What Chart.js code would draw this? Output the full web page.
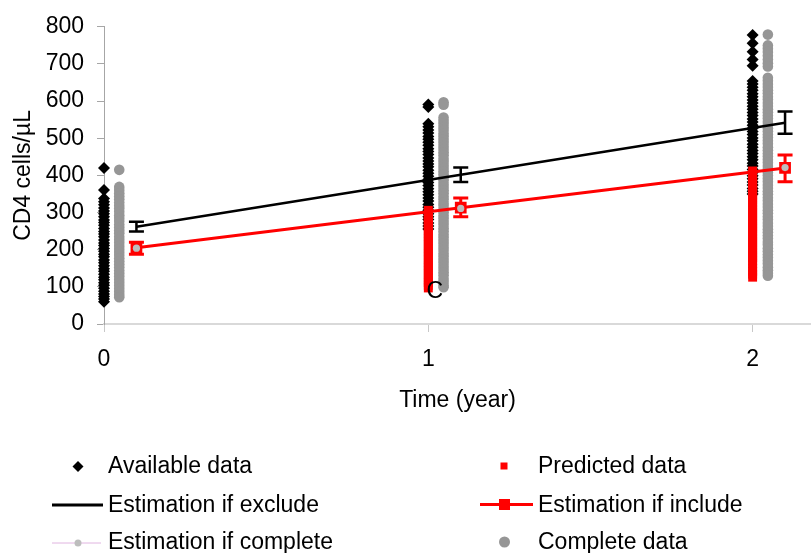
<!DOCTYPE html>
<html>
<head>
<meta charset="utf-8">
<script src="https://cdn.jsdelivr.net/npm/chart.js@4.4.1/dist/chart.umd.min.js"></script>
<style>
  body { margin: 0; background: #fff; }
  canvas { display: block; }
</style>
</head>
<body>
<canvas id="cd4-chart" width="811" height="553"></canvas>
<script>
// time points (years) and tick labels
var timePoints = [0, 1, 2];
var xTickValues = [0, 1, 2];
var yTickValues = [0, 100, 200, 300, 400, 500, 600, 700, 800];
var completeOffset = 0.047;   // complete data column sits just right of each year
var estimateOffset = 0.1;     // estimates are drawn slightly right of each year

// individual CD4 counts, per year
var availableY0 = [420, 361, 338, 329, 321, 312, 304, 297, 289, 280, 273, 266, 257, 249, 242, 235, 226, 218, 211, 203, 196, 188, 181, 172, 165, 157, 149, 142, 134, 126, 119, 111, 104, 96, 88, 81, 74, 67, 60];
var availableY1 = [591, 584, 539, 531, 522, 514, 505, 497, 489, 481, 472, 464, 456, 447, 439, 431, 423, 414, 406, 398, 389, 381, 373, 364, 356, 348, 339, 331, 322, 314, 306, 297, 289, 281, 272, 264, 256];
var availableY2 = [778, 756, 733, 712, 695, 654, 646, 637, 629, 620, 612, 603, 595, 586, 578, 569, 561, 552, 544, 535, 527, 518, 510, 501, 493, 484, 476, 467, 459, 450, 442, 433, 425, 416, 408, 399, 391, 382, 374, 365, 357, 350];

var predictedY1 = [306, 299, 291, 283, 275, 268, 260, 252, 244, 236, 229, 221, 213, 205, 197, 190, 182, 174, 166, 158, 151, 143, 135, 127, 119, 112, 104, 97];
var predictedY2 = [412, 404, 396, 388, 380, 373, 365, 357, 349, 341, 334, 326, 318, 310, 302, 295, 287, 279, 271, 263, 256, 248, 240, 232, 224, 217, 209, 201, 193, 185, 178, 170, 162, 150, 142, 134, 126];

var completeY0 = [415, 369, 361, 352, 344, 336, 327, 318, 311, 302, 293, 285, 277, 268, 260, 252, 244, 235, 227, 219, 210, 202, 194, 186, 177, 169, 161, 153, 144, 136, 128, 119, 111, 103, 95, 87, 79, 72];
var completeY1 = [597, 590, 556, 547, 539, 530, 522, 513, 505, 496, 488, 479, 471, 462, 454, 445, 437, 428, 420, 411, 403, 394, 386, 377, 369, 360, 352, 343, 335, 326, 318, 309, 301, 292, 284, 275, 267, 258, 250, 241, 233, 224, 216, 207, 199, 190, 182, 173, 165, 156, 148, 139, 131, 122, 114, 105, 99];
var completeY2 = [779, 750, 741, 732, 722, 712, 702, 693, 663, 655, 646, 638, 629, 621, 612, 604, 595, 587, 578, 570, 561, 553, 544, 536, 527, 519, 510, 502, 493, 485, 476, 468, 459, 451, 442, 434, 425, 417, 408, 400, 391, 383, 374, 366, 357, 349, 340, 332, 323, 315, 306, 298, 289, 281, 272, 264, 255, 247, 238, 230, 221, 213, 204, 196, 187, 179, 170, 162, 153, 145, 137, 130];

// model estimates with confidence limits
var excludeMean = [262, 402, 542];
var excludeLow = [249, 382, 512];
var excludeHigh = [275, 421, 572];
var includeMean = [205, 313, 420];
var includeLow = [188, 289, 383];
var includeHigh = [220, 339, 455];
var completeMean = [204, 311, 421];

var fontFamily = "'Liberation Sans', Arial, sans-serif";

function column(x, values) {
  return values.map(function (v) { return { x: x, y: v }; });
}
function estimates(values) {
  return values.map(function (v, i) { return { x: timePoints[i] + estimateOffset, y: v }; });
}

var availablePoints = column(timePoints[0], availableY0)
  .concat(column(timePoints[1], availableY1))
  .concat(column(timePoints[2], availableY2));
var predictedPoints = column(timePoints[1], predictedY1)
  .concat(column(timePoints[2], predictedY2));
var completePoints = column(timePoints[0] + completeOffset, completeY0)
  .concat(column(timePoints[1] + completeOffset, completeY1))
  .concat(column(timePoints[2] + completeOffset, completeY2));

// error bars for the two estimate series
var errorBars = {
  id: "errorBars",
  beforeDatasetsDraw: function (chart) {
    var ctx = chart.ctx;
    var xs = chart.scales.x;
    var ys = chart.scales.y;
    function drawSet(low, high, color, width) {
      ctx.save();
      ctx.strokeStyle = color;
      ctx.lineWidth = width;
      for (var i = 0; i < timePoints.length; i++) {
        var px = xs.getPixelForValue(timePoints[i] + estimateOffset);
        var top = ys.getPixelForValue(high[i]);
        var bot = ys.getPixelForValue(low[i]);
        ctx.beginPath();
        ctx.moveTo(px, top);
        ctx.lineTo(px, bot);
        ctx.moveTo(px - 7.5, top);
        ctx.lineTo(px + 7.5, top);
        ctx.moveTo(px - 7.5, bot);
        ctx.lineTo(px + 7.5, bot);
        ctx.stroke();
      }
      ctx.restore();
    }
    drawSet(excludeLow, excludeHigh, "#000000", 2.5);
    drawSet(includeLow, includeHigh, "#ff0000", 3);
  }
};

// two-column legend under the axis + stray panel letter
var bottomLegend = {
  id: "bottomLegend",
  afterDraw: function (chart) {
    var ctx = chart.ctx;
    var ds = chart.data.datasets;
    ctx.save();

    // panel letter left over in the figure
    ctx.font = "23px " + fontFamily;
    ctx.fillStyle = "#000";
    ctx.textAlign = "center";
    ctx.textBaseline = "middle";
    ctx.fillText("C", chart.scales.x.getPixelForValue(1.02), chart.scales.y.getPixelForValue(88));

    ctx.textAlign = "left";
    ctx.textBaseline = "alphabetic";
    ctx.fillText(ds[0].label, 108, 472.5);
    ctx.fillText(ds[3].label, 108, 511.5);
    ctx.fillText(ds[5].label, 108, 548.5);
    ctx.fillText(ds[1].label, 538, 472.5);
    ctx.fillText(ds[4].label, 538, 511.5);
    ctx.fillText(ds[2].label, 538, 548.5);

    // available data: diamond
    ctx.fillStyle = "#000";
    ctx.beginPath();
    ctx.moveTo(78, 461);
    ctx.lineTo(83.5, 466.5);
    ctx.lineTo(78, 472);
    ctx.lineTo(72.5, 466.5);
    ctx.closePath();
    ctx.fill();

    // estimation if exclude: black line
    ctx.strokeStyle = "#000";
    ctx.lineWidth = 3;
    ctx.beginPath();
    ctx.moveTo(52, 505);
    ctx.lineTo(103, 505);
    ctx.stroke();

    // estimation if complete: thin pink line, grey dot
    ctx.strokeStyle = "#e0b4e0";
    ctx.lineWidth = 1;
    ctx.beginPath();
    ctx.moveTo(52, 543);
    ctx.lineTo(101, 543);
    ctx.stroke();
    ctx.fillStyle = "#bdbdbd";
    ctx.beginPath();
    ctx.arc(78, 543, 3.5, 0, Math.PI * 2);
    ctx.fill();

    // predicted data: small red square
    ctx.fillStyle = "#ff0000";
    ctx.fillRect(500.5, 462.5, 7, 7);

    // estimation if include: red line with square
    ctx.strokeStyle = "#ff0000";
    ctx.lineWidth = 3;
    ctx.beginPath();
    ctx.moveTo(480, 504.5);
    ctx.lineTo(533, 504.5);
    ctx.stroke();
    ctx.fillRect(499, 499, 11, 11);

    // complete data: grey circle
    ctx.fillStyle = "#969696";
    ctx.beginPath();
    ctx.arc(504.5, 542, 5.5, 0, Math.PI * 2);
    ctx.fill();

    ctx.restore();
  }
};

Chart.defaults.font.family = fontFamily;
Chart.defaults.font.size = 23;
Chart.defaults.color = "#000";

var ctx = document.getElementById("cd4-chart").getContext("2d");
var cd4Chart = new Chart(ctx, {
  type: "scatter",
  data: {
    datasets: [
      {
        label: "Available data",
        data: availablePoints,
        pointStyle: "rectRot",
        pointRadius: 6,
        backgroundColor: "#000000",
        borderColor: "#000000",
        borderWidth: 0,
        clip: false,
        order: 6
      },
      {
        label: "Predicted data",
        data: predictedPoints,
        pointStyle: "rect",
        pointRadius: 6.3,
        backgroundColor: "#ff0000",
        borderColor: "#ff0000",
        borderWidth: 0,
        clip: false,
        order: 4
      },
      {
        label: "Complete data",
        data: completePoints,
        pointStyle: "circle",
        pointRadius: 5.3,
        backgroundColor: "#969696",
        borderColor: "#969696",
        borderWidth: 0,
        clip: false,
        order: 5
      },
      {
        label: "Estimation if exclude",
        data: estimates(excludeMean),
        showLine: true,
        borderColor: "#000000",
        borderWidth: 2.5,
        pointRadius: 0,
        order: 3
      },
      {
        label: "Estimation if include",
        data: estimates(includeMean),
        showLine: true,
        borderColor: "#ff0000",
        backgroundColor: "#ff0000",
        borderWidth: 3,
        pointStyle: "rect",
        pointRadius: 8.3,
        pointBorderWidth: 0,
        order: 2
      },
      {
        label: "Estimation if complete",
        data: estimates(completeMean),
        pointStyle: "circle",
        pointRadius: 3.6,
        backgroundColor: "#bdbdbd",
        borderColor: "#bdbdbd",
        borderWidth: 0,
        order: 1
      }
    ]
  },
  options: {
    responsive: false,
    animation: false,
    devicePixelRatio: 1,
    layout: { autoPadding: false, padding: { top: 21, right: 0, bottom: 129, left: 0 } },
    plugins: {
      legend: { display: false },
      tooltip: { enabled: false }
    },
    scales: {
      x: {
        type: "linear",
        min: 0,
        max: 2.18,
        afterBuildTicks: function (scale) {
          scale.ticks = xTickValues.map(function (v) { return { value: v }; });
        },
        afterFit: function (scale) {
          scale.height = 100;
          scale.paddingLeft = 0;
          scale.paddingRight = 0;
        },
        border: { color: "#d9d9d9", width: 2 },
        grid: { drawOnChartArea: false, drawTicks: true, tickLength: 8, color: "#c8c8c8" },
        ticks: { padding: 14, color: "#000" },
        title: { display: true, text: "Time (year)", color: "#000", padding: { top: 0, bottom: 10 } }
      },
      y: {
        min: 0,
        max: 800,
        afterBuildTicks: function (scale) {
          scale.ticks = yTickValues.map(function (v) { return { value: v }; });
        },
        afterFit: function (scale) { scale.width = 104; },
        border: { color: "#a6a6a6", width: 1 },
        grid: { drawOnChartArea: false, drawTicks: true, tickLength: 7, color: "#a6a6a6" },
        ticks: { padding: 13, color: "#000" },
        title: { display: true, text: "CD4 cells/µL", color: "#000", padding: { top: 10, bottom: 0 } }
      }
    }
  },
  plugins: [errorBars, bottomLegend]
});
</script>
</body>
</html>
